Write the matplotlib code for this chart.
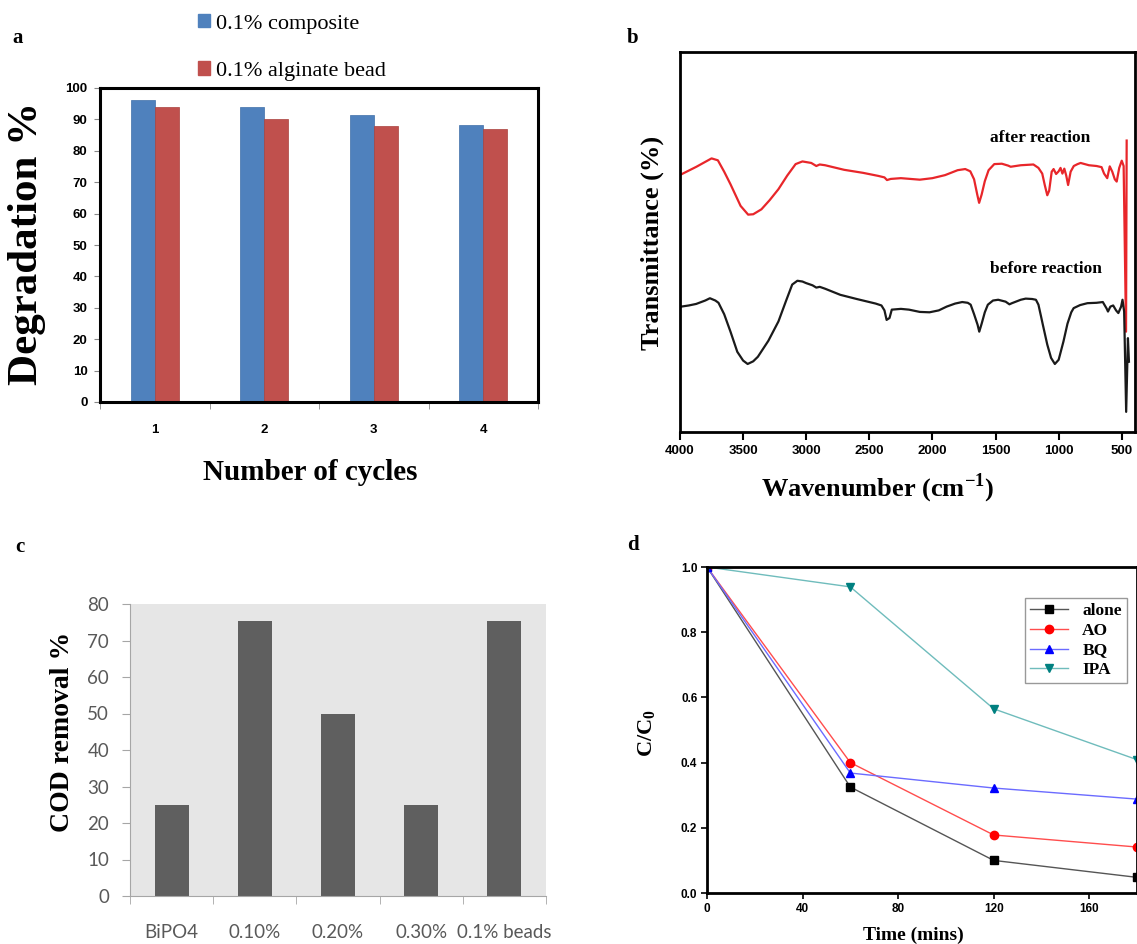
import matplotlib.pyplot as plt
from matplotlib.patches import Patch

# panel a - degradation over reuse cycles
cycles = ['1', '2', '3', '4']
composite = [96.3, 94.1, 91.5, 88.1]
alginate = [93.9, 90.1, 88.0, 87.0]

# panel b - FTIR before / after
wn_after = [3990, 3870, 3750, 3700, 3650, 3600, 3520, 3460, 3420, 3355, 3290, 3220, 3150, 3084,
            3030, 2960, 2920, 2893, 2850, 2700, 2550, 2430, 2380, 2360, 2330, 2250, 2100, 2000,
            1900, 1800, 1740, 1700, 1670, 1645, 1630, 1610, 1585, 1555, 1510, 1450, 1400, 1380,
            1300, 1200, 1160, 1130, 1110, 1090, 1075, 1055, 1040, 1020, 1000, 985, 970, 955, 940,
            925, 905, 880, 850, 826, 760, 700, 660, 640, 615, 595, 575, 555, 540, 520, 500, 485,
            466, 461]
t_after = [67.8, 69.8, 72.0, 71.5, 68.5, 65.2, 59.5, 57.2, 57.3, 58.6, 61.0, 63.9, 67.5, 70.5,
           71.2, 70.8, 70.0, 70.4, 70.2, 69.0, 68.2, 67.4, 67.0, 66.3, 66.6, 66.8, 66.4, 66.8,
           67.6, 68.9, 69.2, 68.6, 66.5, 62.5, 60.3, 62.5, 66.0, 68.9, 70.5, 70.6, 70.1, 69.8,
           70.2, 70.4, 69.5, 68.0, 65.0, 62.3, 63.5, 68.5, 69.2, 67.9, 68.6, 69.5, 68.0, 69.3, 67.5,
           65.0, 68.5, 70.0, 70.5, 70.8, 70.2, 70.0, 69.7, 68.0, 66.8, 69.9, 68.5, 66.5, 65.9, 69.5,
           71.4, 70.0, 26.4, 76.7]
wn_before = [3990, 3930, 3872, 3800, 3763, 3720, 3695, 3650, 3600, 3546, 3500, 3464, 3420, 3383,
             3300, 3220, 3160, 3111, 3070, 3030, 3002, 2950, 2920, 2893, 2850, 2730, 2600, 2450,
             2404, 2380, 2363, 2340, 2322, 2250, 2186, 2100, 2023, 1950, 1887, 1820, 1764, 1720,
             1697, 1670, 1642, 1629, 1610, 1585, 1561, 1520, 1479, 1420, 1390, 1370, 1300, 1261,
             1210, 1180, 1160, 1140, 1125, 1090, 1060, 1030, 1000, 962, 930, 900, 881, 830, 772,
             700, 650, 620, 609, 590, 568, 545, 527, 505, 494, 481, 465, 451, 443]
t_before = [33.0, 33.3, 33.7, 34.6, 35.2, 34.6, 34.0, 31.0, 26.4, 21.1, 18.8, 17.9, 18.6, 19.8,
            24.0, 29.1, 34.5, 38.8, 39.8, 39.6, 39.2, 38.6, 38.0, 38.2, 37.7, 36.1, 35.0, 33.8,
            33.3, 32.0, 29.5, 30.0, 32.2, 32.4, 32.2, 31.6, 31.5, 32.0, 33.0, 33.8, 34.2, 34.0,
            33.5, 31.0, 28.2, 26.4, 28.5, 31.5, 33.5, 34.6, 34.8, 34.3, 33.6, 33.9, 34.8, 35.1,
            35.0, 34.8, 33.5, 30.5, 28.2, 23.0, 19.5, 17.9, 19.0, 23.8, 28.5, 31.5, 32.6, 33.4, 33.9,
            34.0, 34.2, 32.5, 31.7, 33.0, 33.3, 32.0, 31.3, 33.0, 34.8, 31.7, 5.3, 24.7, 18.5]

# panel c - COD removal
samples = ['BiPO4', '0.10%', '0.20%', '0.30%', '0.1% beads']
cod = [25, 75.3, 50, 25, 75.3]

# panel d - scavenger test
time = [0, 60, 120, 180]
alone = [1.0, 0.325, 0.100, 0.048]
ao = [1.0, 0.400, 0.178, 0.141]
bq = [1.0, 0.368, 0.322, 0.288]
ipa = [1.0, 0.939, 0.565, 0.409]

W, H = 1137, 944
SERIF = 'Liberation Serif'
SANS = 'Liberation Sans'

# math text (superscript / subscript) in the same Times-like face
plt.rcParams['mathtext.fontset'] = 'custom'
plt.rcParams['mathtext.rm'] = SERIF
plt.rcParams['mathtext.bf'] = SERIF + ':bold'


def box(l, t, r, b):
    # pixel box -> figure fraction rect
    return [l / W, 1 - b / H, (r - l) / W, (b - t) / H]


fig = plt.figure(figsize=(W / 100, H / 100), dpi=100)

# ---------------- a ----------------
ax = fig.add_axes(box(100, 88, 538, 402))
x = list(range(len(cycles)))
w = 0.22
ax.bar([i - w for i in x], composite, w, color='#4f81bd', edgecolor='#3f6fa8', lw=0.5,
       align='edge', label='0.1% composite')
ax.bar(x, alginate, w, color='#c0504d', edgecolor='#a9403d', lw=0.5,
       align='edge', label='0.1% alginate bead')
ax.set_xlim(-0.5, 3.5)
ax.set_ylim(0, 100)
ax.set_yticks(range(0, 101, 10))
ax.set_xticks(x)
ax.set_xticklabels(cycles)
ax.set_xticks([i - 0.5 for i in range(5)], minor=True)
ax.tick_params(axis='x', which='major', length=0, pad=16)
ax.tick_params(axis='x', which='minor', length=5, color='#888888', direction='out')
ax.tick_params(axis='y', length=4, pad=5, color='#888888')
for lab in ax.get_xticklabels() + ax.get_yticklabels():
    lab.set_fontfamily(SANS)
    lab.set_fontweight('bold')
    lab.set_fontsize(9.5)
for s in ax.spines.values():
    s.set_linewidth(2.2)
ax.set_ylabel('Degradation %', fontfamily=SERIF, fontweight='bold', fontsize=31, va='center')
ax.yaxis.set_label_coords(-0.167, 0.506)
ax.set_xlabel('Number of cycles', fontfamily=SERIF, fontweight='bold', fontsize=21, va='center')
ax.xaxis.set_label_coords(0.479, -0.226)
h = [Patch(color='#4f81bd'), Patch(color='#c0504d')]
fig.legend(h, ['0.1% composite', '0.1% alginate bead'], loc='center left',
           bbox_to_anchor=(198 / W, 1 - 47.5 / H), frameon=False, borderpad=0,
           borderaxespad=0, handlelength=0.55, handleheight=0.55, handletextpad=0.25,
           labelspacing=1.25, prop={'family': SERIF, 'size': 16})

# ---------------- b ----------------
ax = fig.add_axes(box(680, 52, 1135, 432))
ax.plot(wn_after, t_after, color='#e8262a', lw=1.6)
ax.plot(wn_before, t_before, color='#1a1a1a', lw=1.6)
ax.set_xlim(4000, 395)
ax.set_ylim(0, 100)
ax.set_xticks(range(4000, 499, -500))
ax.set_yticks([])
ax.tick_params(axis='x', length=6, width=1.5, pad=3)
for lab in ax.get_xticklabels():
    lab.set_fontfamily(SANS)
    lab.set_fontweight('bold')
    lab.set_fontsize(9.5)
for s in ax.spines.values():
    s.set_linewidth(2)
ax.text(0.791, 0.774, 'after reaction', fontfamily=SERIF, fontweight='bold', fontsize=12.5,
        ha='center', va='center', transform=ax.transAxes)
ax.text(0.804, 0.429, 'before reaction', fontfamily=SERIF, fontweight='bold', fontsize=12.5,
        ha='center', va='center', transform=ax.transAxes)
ax.set_ylabel('Transmittance (%)', fontfamily=SERIF, fontweight='bold', fontsize=19, va='center')
ax.yaxis.set_label_coords(-0.0615, 0.497)
ax.set_xlabel('Wavenumber (cm$^{\\mathbf{-1}}$)', fontfamily=SERIF, fontweight='bold',
              fontsize=19, va='center')
ax.xaxis.set_label_coords(0.435, -0.147)

# ---------------- c ----------------
ax = fig.add_axes(box(130, 604, 546, 896))
ax.set_facecolor('#e6e6e6')
ax.bar(range(len(samples)), cod, 0.41, color='#5f5f5f')
ax.set_xlim(-0.5, 4.5)
ax.set_ylim(0, 80)
ax.set_yticks(range(0, 81, 10))
ax.set_xticks(range(len(samples)))
ax.set_xticklabels(samples)
ax.set_xticks([i - 0.5 for i in range(6)], minor=True)
ax.tick_params(axis='x', which='major', length=0, pad=20)
ax.tick_params(axis='x', which='minor', length=6, color='#a6a6a6')
ax.tick_params(axis='y', length=6, color='#a6a6a6', pad=9)
for lab in ax.get_xticklabels() + ax.get_yticklabels():
    lab.set_fontfamily('Lato')
    lab.set_fontsize(13.5)
    lab.set_color('#595959')
ax.spines['top'].set_visible(False)
ax.spines['right'].set_visible(False)
ax.spines['left'].set_color('#a6a6a6')
ax.spines['bottom'].set_color('#a6a6a6')
ax.set_ylabel('COD removal %', fontfamily=SERIF, fontweight='bold', fontsize=20, va='center')
ax.yaxis.set_label_coords(-0.163, 0.562)

# ---------------- d ----------------
ax = fig.add_axes(box(707, 567, 1137, 893))
ax.plot(time, alone, color='#555555', lw=1, marker='s', ms=5.5, mfc='black', mec='black', label='alone')
ax.plot(time, ao, color='#ff4d4d', lw=1, marker='o', ms=6, mfc='#ff0000', mec='#ff0000', label='AO')
ax.plot(time, bq, color='#6b6bff', lw=1, marker='^', ms=6, mfc='#0000ff', mec='#0000ff', label='BQ')
ax.plot(time, ipa, color='#6fbcbc', lw=1, marker='v', ms=6, mfc='#008080', mec='#008080', label='IPA')
ax.set_xlim(0, 180)
ax.set_ylim(0, 1.0)
ax.set_xticks(range(0, 161, 40))
ax.set_yticks([0.0, 0.2, 0.4, 0.6, 0.8, 1.0])
ax.tick_params(length=4, width=1.2, pad=3)
for lab in ax.get_xticklabels() + ax.get_yticklabels():
    lab.set_fontfamily(SANS)
    lab.set_fontweight('bold')
    lab.set_fontsize(8.5)
for s in ax.spines.values():
    s.set_linewidth(2)
ax.legend(loc='upper right', bbox_to_anchor=(0.977, 0.905), borderaxespad=0, fancybox=False,
          edgecolor='#999999', framealpha=1, handlelength=2.2, labelspacing=0.2, borderpad=0.3,
          prop={'family': SERIF, 'weight': 'bold', 'size': 12.5})
ax.set_ylabel('C/C$_\\mathbf{0}$', fontfamily=SERIF, fontweight='bold', fontsize=16, va='center')
ax.yaxis.set_label_coords(-0.1395, 0.491)
ax.set_xlabel('Time (mins)', fontfamily=SERIF, fontweight='bold', fontsize=14, va='center')
ax.xaxis.set_label_coords(0.479, -0.129)

# panel letters
for letter, (px, py) in zip('abcd', [(18, 38), (633, 38), (20, 547), (633, 545)]):
    fig.text(px / W, 1 - py / H, letter, fontfamily=SERIF, fontweight='bold', fontsize=15,
             ha='center', va='center')

fig.savefig('out.png', dpi=100)
